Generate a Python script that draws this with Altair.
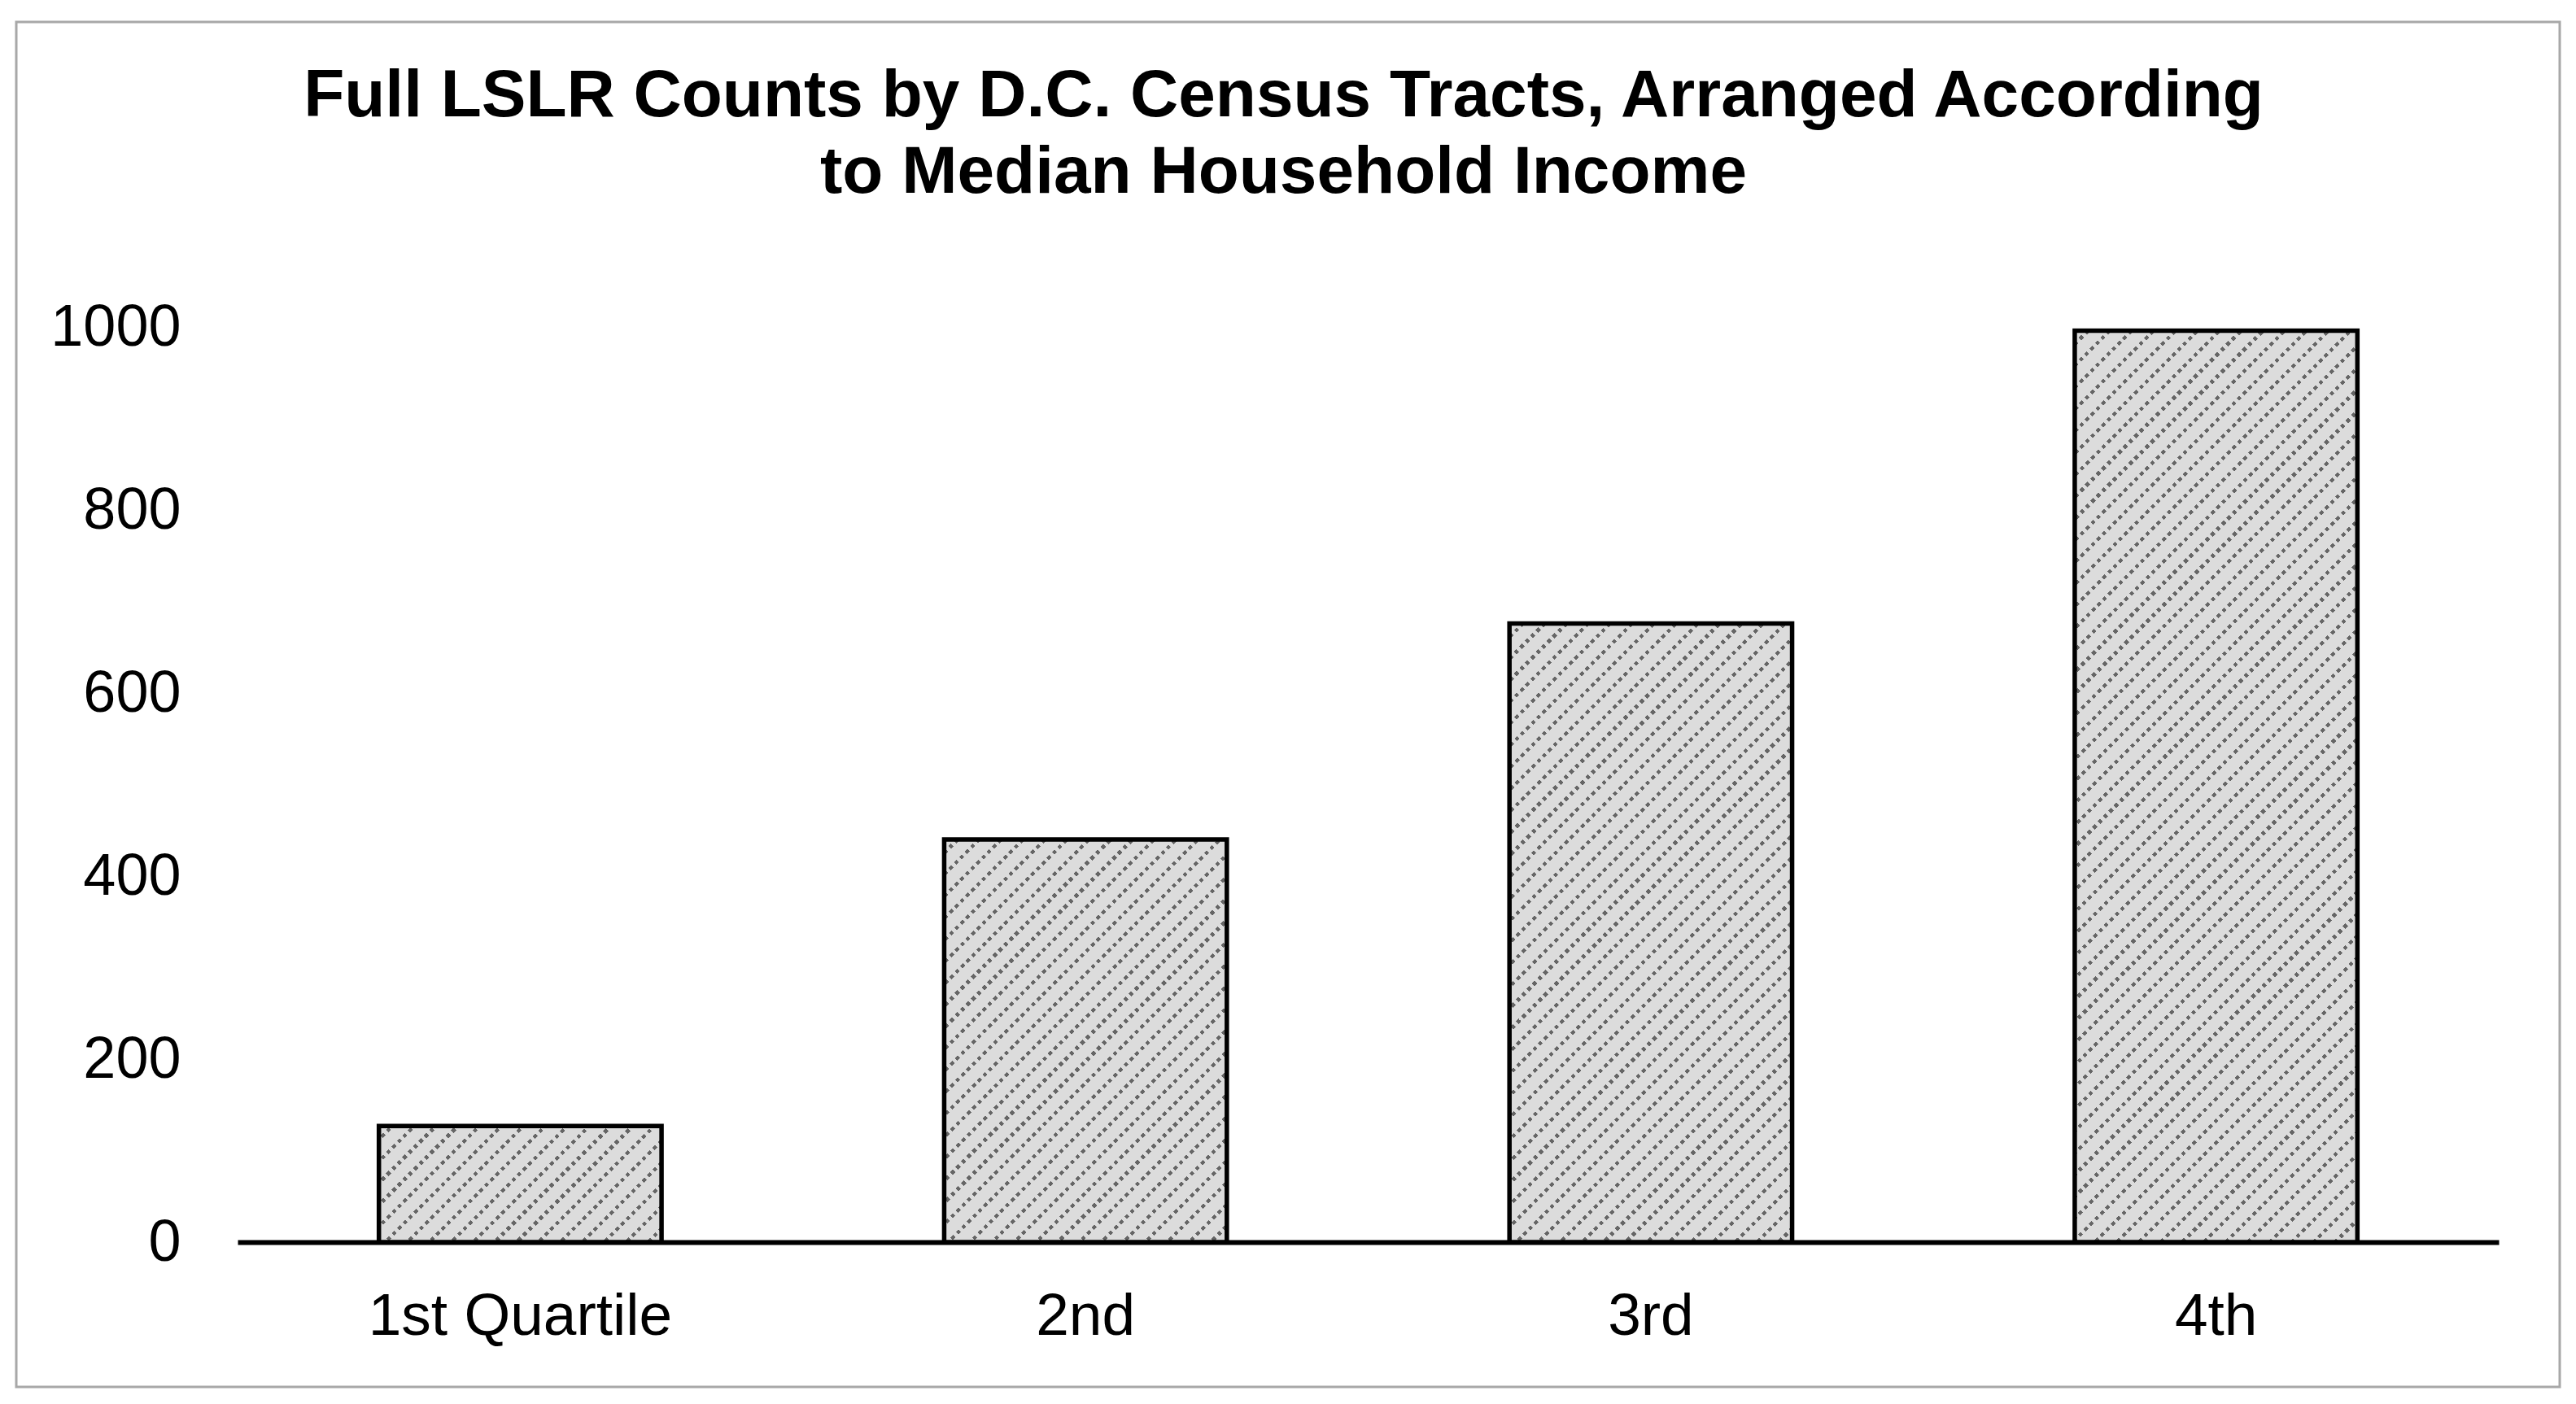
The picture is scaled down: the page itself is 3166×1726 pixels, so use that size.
import math
import altair as alt
import pandas as pd

# ---- data ----
quartiles = ["1st Quartile", "2nd", "3rd", "4th"]
counts = [127, 440, 676, 996]
y_ticks = [0, 200, 400, 600, 800, 1000]
title_lines = ["Full LSLR Counts by D.C. Census Tracts, Arranged According",
               "to Median Household Income"]

df = pd.DataFrame({"q": quartiles, "n": counts})

# ---- layout / style ----
W, H = 2779, 1125
Y_MAX = 1000
P_IN, P_OUT = 0.5, 0.25
FONT = "Liberation Sans"
LIGHT = "#dcdcdc"
LIGHT_0 = "rgba(220,220,220,0)"
DARK = "#666666"

step = W / (len(quartiles) - P_IN + 2 * P_OUT)
bw = step * (1 - P_IN)


def stripes(value, period_px, width_px, on, off, down=False):
    """Diagonal stripes as a linear gradient in the bar's bounding box.
    down=False gives '/' stripes, down=True gives '\\' stripes."""
    h = value / Y_MAX * H
    r = bw / h
    b = (r + 1) / (r * r + 1)
    a = r * b
    D = (bw + h) / math.sqrt(2)
    period = period_px / D
    lw = width_px / D
    stops = [{"offset": 0, "color": off}]
    t = period * 0.5
    while t + lw < 1:
        stops += [
            {"offset": t, "color": off},
            {"offset": t, "color": on},
            {"offset": t + lw, "color": on},
            {"offset": t + lw, "color": off},
        ]
        t += period
    stops.append({"offset": 1, "color": off})
    if down:
        return {"gradient": "linear", "x1": 0, "y1": 1, "x2": a, "y2": 1 - b, "stops": stops}
    return {"gradient": "linear", "x1": 0, "y1": 0, "x2": a, "y2": b, "stops": stops}


x_enc = alt.X(
    "q:N",
    sort=quartiles,
    scale=alt.Scale(domain=quartiles, paddingInner=P_IN, paddingOuter=P_OUT),
    axis=alt.Axis(
        title=None,
        labelAngle=0,
        labelFontSize=73,
        labelFont=FONT,
        labelColor="black",
        labelPadding=55,
        labelLimit=0,
        ticks=False,
        domainColor="black",
        domainWidth=6,
        grid=False,
    ),
)
y_enc = alt.Y(
    "n:Q",
    scale=alt.Scale(domain=[0, Y_MAX], nice=False),
    axis=alt.Axis(
        title=None,
        values=y_ticks,
        format="d",
        labelFontSize=72,
        labelFont=FONT,
        labelColor="black",
        labelPadding=70,
        labelLimit=0,
        ticks=False,
        domain=False,
        grid=False,
    ),
)

layers = []
for q, n in zip(quartiles, counts):
    base = alt.Chart(df).transform_filter(alt.datum.q == q)
    # light fill with '/' dark lines
    layers.append(
        base.mark_bar(fill=stripes(n, 19.0, 4.4, DARK, LIGHT), strokeWidth=0)
        .encode(x=x_enc, y=y_enc)
    )
    # '\' light mask that breaks the lines into dots
    layers.append(
        base.mark_bar(fill=stripes(n, 9.4, 4.8, LIGHT, LIGHT_0, down=True), strokeWidth=0)
        .encode(x=x_enc, y=y_enc)
    )
    # black outline
    layers.append(
        base.mark_bar(fill="transparent", stroke="black", strokeWidth=5.5)
        .encode(x=x_enc, y=y_enc)
    )

frame = (
    alt.Chart(pd.DataFrame({"k": [0]}))
    .mark_rect(fill="transparent", stroke="#a8a8a8", strokeWidth=3)
    .encode(
        x=alt.value(-272),
        x2=alt.value(W + 75),
        y=alt.value(-375),
        y2=alt.value(H + 178),
    )
)

chart = (
    alt.layer(*layers, frame)
    .properties(
        width=W,
        height=H,
        background="white",
        padding={"left": 284, "top": 394, "right": 80, "bottom": 190},
        autosize=alt.AutoSizeParams(type="none"),
        title=alt.Title(
            title_lines,
            font=FONT,
            fontSize=82,
            fontWeight="bold",
            color="black",
            lineHeight=94,
            anchor="middle",
            dx=-104,
            offset=-228,
        ),
    )
    .configure_view(stroke="transparent", strokeWidth=0)
    .configure_axis(grid=False)
)

chart.save("out.html", embed_options={"renderer": "svg", "actions": False})
